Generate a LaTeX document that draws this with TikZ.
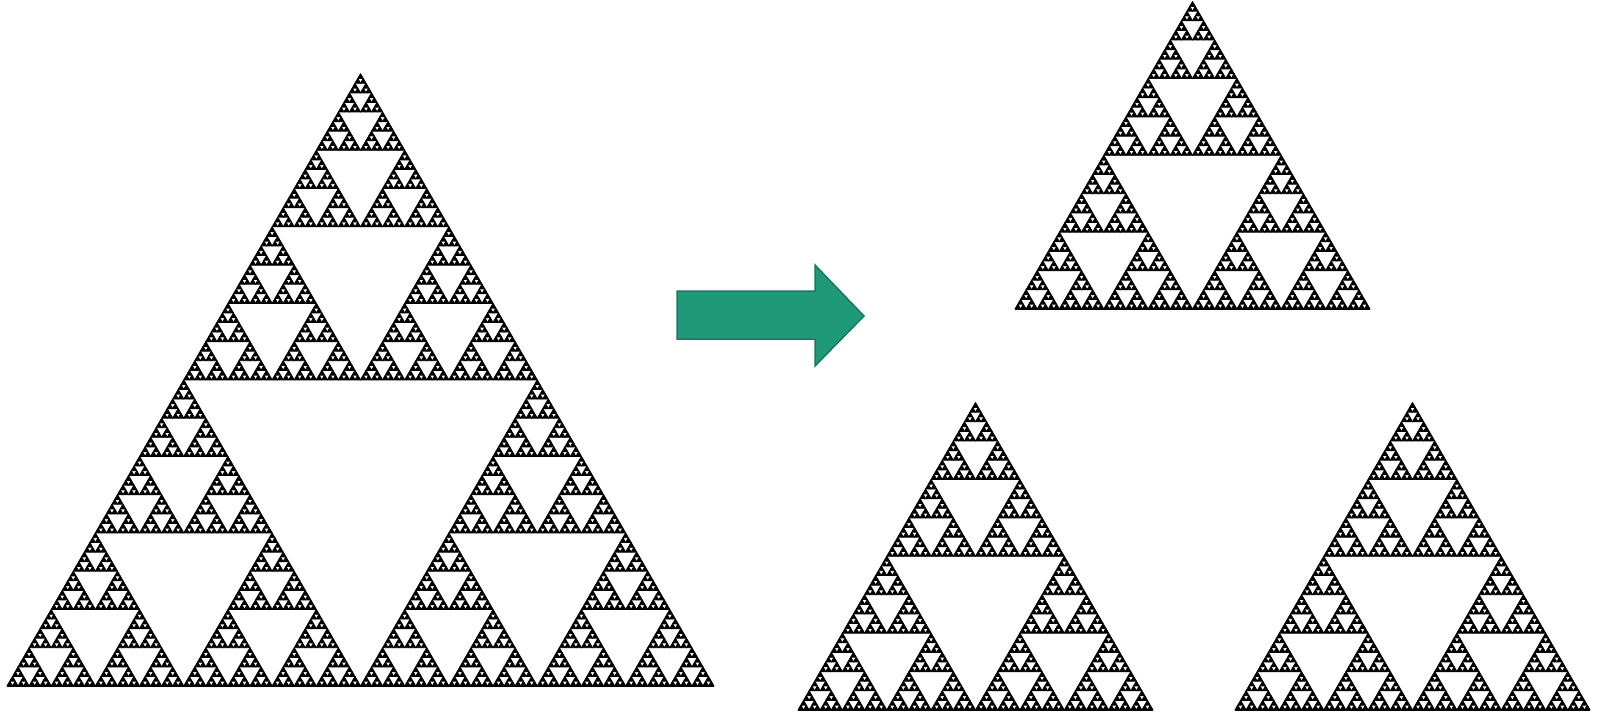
\documentclass[tikz,border=0pt]{standalone}
\usepackage{tikz}
\definecolor{arrowfill}{RGB}{30,154,120}
\definecolor{arrowline}{RGB}{24,122,95}
\tikzset{
  sierpiece/.style={fill=black,draw=black,line width=0.9pt,line join=round},
  greenarrow/.style={fill=arrowfill,draw=arrowline,line width=1.5pt,line join=miter}
}
\def\sier#1#2#3#4{%
  \ifnum#1=0
    \path[sierpiece] (#2,#3) -- ++(#4,0) -- ++({-0.5*#4},{-0.8660254*#4}) -- cycle;%
  \else
    \pgfmathsetmacro\sierh{#4/2}%
    \pgfmathsetmacro\sierxb{#2+#4/2}%
    \pgfmathsetmacro\sierxc{#2+#4/4}%
    \pgfmathsetmacro\sieryc{#3-0.4330127*#4}%
    \edef\sierdo{%
      \noexpand\sier{\the\numexpr#1-1\relax}{#2}{#3}{\sierh}%
      \noexpand\sier{\the\numexpr#1-1\relax}{\sierxb}{#3}{\sierh}%
      \noexpand\sier{\the\numexpr#1-1\relax}{\sierxc}{\sieryc}{\sierh}%
    }%
    \sierdo
  \fi}
\begin{document}
\begin{tikzpicture}[x=1pt,y=-1pt]
\useasboundingbox (0,0) rectangle (1598,713);
% large triangle
\sier{7}{7}{686}{707}
\draw[line width=2pt] (7,686) -- (714,686);
% arrow
\path[greenarrow] (677,291) -- (815,291) -- (815,265) -- (864,316) -- (815,366) -- (815,339) -- (677,339) -- cycle;
% top right
\sier{6}{1015}{309}{355}
\draw[line width=1.6pt] (1015,309) -- (1370,309);
% bottom left
\sier{6}{798}{710}{355}
\draw[line width=1.6pt] (798,710) -- (1153,710);
% bottom right
\sier{6}{1235}{710}{355}
\draw[line width=1.6pt] (1235,710) -- (1590,710);
\end{tikzpicture}
\end{document}
